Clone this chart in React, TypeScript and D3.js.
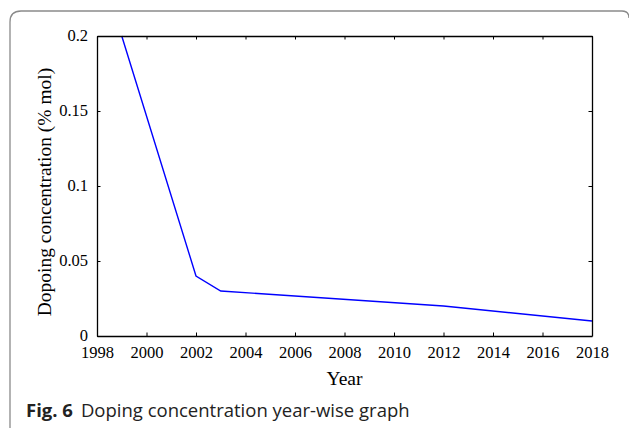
import React, { useEffect, useRef } from 'react';
import * as d3 from 'd3';

const years = [1999, 2002, 2003, 2012, 2018];
const concentration = [0.2, 0.04, 0.03, 0.02, 0.01];
const xTicks = [1998, 2000, 2002, 2004, 2006, 2008, 2010, 2012, 2014, 2016, 2018];
const yTicks = [0, 0.05, 0.1, 0.15, 0.2];
const yTickLabels = ['0', '0.05', '0.1', '0.15', '0.2'];

export default function App() {
  const svgRef = useRef<SVGSVGElement>(null);

  useEffect(() => {
    const svg = d3.select(svgRef.current);
    svg.selectAll('*').remove();

    const H = 428;
    const plot = { left: 97, right: 592, top: 36, bottom: 336 };
    const serif = '"Liberation Serif", "Times New Roman", serif';
    const sans = '"Open Sans", "Noto Sans", sans-serif';

    // рамка
    svg.append('path')
      .attr('d', `M10,${H + 4} L10,22 Q10,11 21,11 L622,11 Q629,11 629,18`)
      .attr('fill', 'none')
      .attr('stroke', '#8a8a8a')
      .attr('stroke-width', 1.3);

    const x = d3.scaleLinear().domain([1998, 2018]).range([plot.left, plot.right]);
    const y = d3.scaleLinear().domain([0, 0.2]).range([plot.bottom, plot.top]);

    const g = svg.append('g');

    // линия
    const line = d3.line<number>()
      .x((_, i) => x(years[i]))
      .y(d => y(d));
    g.append('path')
      .datum(concentration)
      .attr('d', line)
      .attr('fill', 'none')
      .attr('stroke', '#0000ff')
      .attr('stroke-width', 1.4);

    // оси
    const tick = 3.5;
    const xb = g.append('g').attr('transform', `translate(0,${plot.bottom})`)
      .call(d3.axisBottom(x).tickValues(xTicks).tickFormat(d3.format('d')).tickSizeInner(-tick).tickSizeOuter(0).tickPadding(11));
    const yl = g.append('g').attr('transform', `translate(${plot.left},0)`)
      .call(d3.axisLeft(y).tickValues(yTicks).tickFormat((_, i) => yTickLabels[i]).tickSizeInner(-tick).tickSizeOuter(0).tickPadding(9));
    const xt = g.append('g').attr('transform', `translate(0,${plot.top})`)
      .call(d3.axisTop(x).tickValues(xTicks).tickFormat(() => '').tickSizeInner(-tick).tickSizeOuter(0));
    const yr = g.append('g').attr('transform', `translate(${plot.right},0)`)
      .call(d3.axisRight(y).tickValues(yTicks).tickFormat(() => '').tickSizeInner(-tick).tickSizeOuter(0));

    [xb, yl, xt, yr].forEach(a => {
      a.attr('font-family', serif).attr('font-size', 16.5);
      a.select('.domain').attr('stroke', '#000').attr('stroke-width', 1.3);
      a.selectAll('.tick line').attr('stroke', '#000').attr('stroke-width', 1);
      a.selectAll('.tick text').attr('fill', '#000');
    });
    xb.selectAll('.tick text').attr('dy', '0.68em');
    yl.selectAll('.tick text').attr('dy', '0.25em');

    // подписи осей
    svg.append('text')
      .attr('x', (plot.left + plot.right) / 2)
      .attr('y', 385)
      .attr('text-anchor', 'middle')
      .attr('font-family', serif)
      .attr('font-size', 19.5)
      .text('Year');

    svg.append('text')
      .attr('transform', `translate(51,192) rotate(-90)`)
      .attr('text-anchor', 'middle')
      .attr('font-family', serif)
      .attr('font-size', 19.5)
      .text('Dopoing concentration (% mol)');

    // подпись рисунка
    const cap = svg.append('text')
      .attr('x', 26)
      .attr('y', 417)
      .attr('font-family', sans)
      .attr('font-size', 18.5)
      .attr('fill', '#222');
    cap.append('tspan').attr('font-weight', 'bold').text('Fig. 6');
    cap.append('tspan').attr('dx', 8).text('Doping concentration year-wise graph');
  }, []);

  return (
    <svg
      ref={svgRef}
      width={629}
      height={428}
      style={{ position: 'absolute', left: 0, top: 0, background: '#fff' }}
    ></svg>
  );
}
